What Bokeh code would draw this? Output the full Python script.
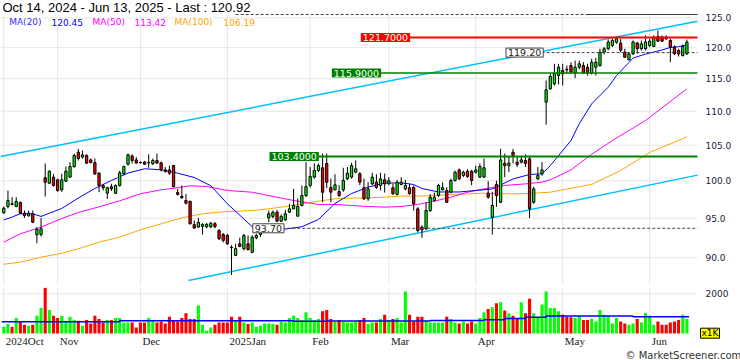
from bokeh.plotting import figure
from bokeh.layouts import column
from bokeh.models import Range1d, Label, LabelSet, ColumnDataSource
from bokeh.embed import file_html
from bokeh.resources import INLINE

# ---------------- data ----------------
opens = [95.71, 96.54, 96.90, 96.54, 97.07, 95.66, 95.32, 95.58, 92.87, 92.90,
         100.41, 99.67, 100.50, 100.13, 98.77, 99.95, 100.50, 101.97, 104.00, 103.30,
         103.53, 102.90, 102.52, 101.05, 99.36, 98.32, 99.20, 98.30, 99.36, 100.96,
         102.30, 103.45, 102.90, 102.55, 102.60, 102.50, 102.35, 102.82, 102.50, 101.50,
         101.50, 102.10, 98.40, 97.87, 97.34, 97.21, 94.17, 93.85, 93.95, 93.90,
         93.90, 94.30, 93.42, 92.90, 92.78, 91.30, 90.28, 91.73, 91.12, 91.73,
         90.67, 92.49, 92.90, 93.40, 95.05, 95.23, 95.79, 94.62, 94.80, 95.79,
         96.23, 95.27, 96.68, 98.00, 99.36, 100.50, 101.42, 101.80, 102.40, 99.10,
         98.77, 98.55, 98.77, 100.27, 100.50, 101.20, 100.96, 99.05, 97.56, 99.58,
         99.81, 99.36, 100.13, 99.60, 99.05, 98.15, 99.50, 98.90, 99.05, 99.10,
         96.23, 93.85, 93.64, 96.01, 97.34, 98.00, 98.77, 98.68, 98.45, 100.04,
         101.50, 100.73, 101.32, 101.32, 101.18, 100.50, 100.50, 98.32, 95.14, 99.50,
         97.10, 102.44, 102.10, 104.00, 102.58, 102.58, 102.82, 103.05, 97.10, 100.27,
         100.96, 111.37, 113.43, 114.21, 115.52, 116.31, 116.50, 117.10, 115.89, 116.83,
         117.10, 116.83, 115.89, 116.83, 117.10, 119.26, 119.83, 120.37, 120.90, 120.75,
         119.26, 118.02, 118.99, 120.78, 119.83, 119.83, 120.37, 120.20, 121.85, 121.75,
         121.75, 121.19, 120.10, 119.54, 118.72, 118.99]
highs = [96.54, 98.68, 97.78, 97.78, 97.21, 96.01, 96.00, 96.00, 93.85, 95.02,
         102.40, 101.42, 100.96, 100.30, 100.96, 101.97, 102.58, 103.80, 104.48, 104.24,
         103.70, 103.10, 103.10, 101.20, 99.58, 99.20, 99.60, 99.50, 101.40, 102.10,
         103.80, 103.70, 103.30, 102.70, 102.75, 103.70, 103.10, 103.80, 102.65, 101.90,
         102.10, 102.20, 98.90, 99.36, 98.20, 97.34, 94.71, 95.02, 94.36, 94.40,
         94.50, 94.50, 93.60, 93.10, 93.00, 91.55, 91.73, 92.50, 93.00, 92.78,
         92.80, 93.00, 93.60, 94.30, 96.01, 96.00, 96.10, 95.50, 96.10, 96.90,
         98.90, 97.60, 99.36, 102.58, 101.90, 102.40, 102.40, 103.80, 103.80, 100.30,
         100.90, 99.40, 101.80, 101.90, 102.50, 102.82, 101.20, 100.30, 99.80, 101.10,
         100.90, 101.10, 101.00, 100.50, 99.60, 100.10, 100.50, 100.10, 99.60, 99.36,
         96.45, 94.07, 97.10, 98.20, 98.40, 99.60, 99.80, 99.10, 100.30, 101.40,
         101.70, 101.40, 101.60, 101.50, 102.10, 102.40, 103.10, 99.95, 98.50, 100.00,
         104.48, 103.80, 103.40, 104.48, 103.30, 103.50, 103.70, 103.30, 99.20, 101.90,
         102.60, 114.73, 115.80, 117.38, 117.38, 117.38, 117.10, 117.64, 117.91, 117.91,
         117.64, 117.40, 118.19, 118.35, 119.83, 120.10, 121.35, 121.47, 121.85, 121.47,
         119.83, 119.26, 121.19, 120.95, 121.19, 122.03, 121.47, 122.03, 122.86, 122.03,
         122.03, 121.47, 120.37, 119.83, 120.53, 121.35]
lows = [95.58, 96.30, 96.70, 96.45, 95.58, 95.05, 95.20, 94.36, 91.80, 92.65,
        97.87, 99.58, 99.20, 98.50, 98.50, 99.81, 100.41, 101.80, 102.82, 103.10,
        102.40, 102.40, 100.80, 98.45, 98.68, 97.56, 98.60, 98.20, 99.20, 100.80,
        102.10, 102.40, 102.40, 102.40, 102.20, 101.80, 102.20, 102.35, 101.30, 101.10,
        100.80, 99.10, 98.00, 97.56, 96.80, 94.20, 93.63, 93.77, 92.90, 93.70,
        93.70, 93.70, 92.20, 91.90, 91.60, 87.90, 90.20, 91.30, 90.90, 90.90,
        90.55, 92.30, 92.60, 93.20, 94.49, 95.00, 94.50, 94.50, 94.62, 95.66,
        96.20, 95.20, 96.54, 97.78, 99.10, 100.30, 101.20, 97.10, 99.00, 97.10,
        98.70, 97.80, 98.50, 100.10, 100.30, 101.05, 99.40, 97.40, 97.30, 99.40,
        98.90, 98.70, 98.40, 99.40, 98.10, 98.00, 99.40, 98.70, 98.10, 96.01,
        93.20, 92.49, 93.50, 95.80, 97.20, 97.80, 98.70, 97.00, 98.30, 99.90,
        100.10, 100.50, 100.40, 99.40, 101.00, 100.40, 100.40, 97.56, 92.90, 96.50,
        96.98, 100.50, 101.20, 102.40, 101.90, 102.40, 101.90, 95.02, 96.90, 100.10,
        100.70, 108.00, 113.28, 113.95, 114.10, 113.95, 115.79, 115.79, 115.10, 116.50,
        115.79, 115.50, 115.68, 115.52, 116.94, 118.90, 119.58, 120.10, 120.65, 119.26,
        118.35, 117.91, 118.80, 118.99, 119.54, 119.54, 120.10, 120.10, 120.95, 120.95,
        121.30, 117.64, 118.80, 118.55, 118.55, 118.83]
closes = [96.32, 97.34, 96.80, 97.21, 95.66, 95.32, 95.66, 94.49, 93.59, 93.64,
          99.81, 101.32, 99.36, 98.68, 100.13, 101.32, 101.97, 103.53, 103.10, 103.62,
          102.44, 102.54, 100.96, 99.36, 99.05, 99.05, 98.90, 99.36, 101.10, 101.97,
          103.62, 102.82, 102.45, 102.50, 102.30, 102.55, 102.82, 102.45, 101.50, 101.32,
          101.05, 99.20, 98.15, 97.70, 96.98, 94.28, 93.73, 94.45, 94.20, 94.20,
          94.36, 93.90, 92.36, 92.15, 91.73, 91.25, 91.12, 91.40, 92.78, 91.00,
          92.57, 92.78, 93.42, 94.00, 95.58, 95.79, 94.62, 95.23, 95.58, 96.23,
          96.68, 96.55, 98.00, 99.20, 100.60, 101.42, 102.10, 98.45, 99.80, 98.45,
          99.45, 98.00, 100.04, 101.05, 102.10, 101.65, 99.81, 97.56, 98.90, 100.50,
          99.10, 100.27, 99.58, 100.00, 98.25, 99.81, 99.80, 99.36, 98.25, 96.90,
          93.42, 93.50, 96.01, 97.78, 97.78, 99.36, 99.05, 97.10, 100.04, 101.18,
          100.27, 101.18, 100.60, 100.04, 101.50, 101.97, 101.80, 97.78, 96.68, 98.00,
          102.90, 102.10, 102.44, 103.53, 102.25, 102.90, 102.40, 96.23, 98.90, 100.73,
          101.50, 113.28, 115.36, 115.79, 116.83, 115.79, 116.42, 116.04, 116.83, 117.38,
          115.89, 115.89, 117.64, 117.64, 119.26, 119.83, 120.95, 121.19, 121.47, 119.58,
          118.44, 118.99, 120.95, 119.83, 120.65, 120.95, 121.08, 121.75, 121.08, 121.08,
          121.47, 120.10, 118.99, 118.99, 120.20, 120.92]
volumes = [339, 475, 339, 780, 576, 440, 390, 440, 898, 1288,
           2300, 1186, 898, 780, 898, 644, 847, 678, 644, 390,
           678, 508, 898, 729, 559, 678, 678, 780, 780, 559,
           559, 559, 305, 559, 559, 780, 678, 559, 610, 508,
           847, 678, 610, 780, 1017, 729, 729, 1407, 440, 136,
           305, 440, 559, 559, 559, 847, 678, 847, 559, 475,
           559, 339, 390, 508, 508, 475, 440, 610, 559, 780,
           898, 780, 678, 1068, 780, 678, 729, 1119, 1186, 729,
           610, 678, 610, 559, 559, 610, 678, 780, 475, 559,
           559, 729, 949, 678, 729, 780, 559, 2119, 949, 610,
           847, 847, 644, 559, 559, 559, 559, 847, 729, 559,
           508, 610, 508, 610, 508, 780, 1068, 1237, 1322, 1525,
           1576, 1153, 1017, 898, 780, 1576, 1017, 1746, 1017, 847,
           1458, 2119, 1288, 1288, 1119, 949, 847, 814, 780, 898,
           678, 678, 729, 610, 1186, 949, 898, 508, 780, 610,
           508, 440, 508, 729, 559, 1017, 898, 440, 610, 440,
           440, 559, 610, 678, 949, 729]

# moving averages (bar index, value)
ma20_k = [0, 2, 4, 7, 9, 11, 14, 18, 22, 26, 30, 34, 38, 42, 46, 50, 54, 56, 58, 60,
          64, 68, 72, 76, 80, 84, 88, 92, 96, 99, 101, 105, 110, 114, 118, 123, 127, 130,
          132, 137, 139, 142, 146, 148, 151, 152, 155, 159, 161, 163, 165]
ma20_v = [94.77, 95.16, 95.58, 95.58, 95.23, 95.66, 96.28, 97.67, 98.95, 100.04,
          101.07, 101.66, 101.52, 101.05, 100.45, 99.32, 96.90, 95.90, 94.90, 93.90,
          93.40, 93.60, 93.90, 94.84, 96.94, 98.27, 99.14, 99.68, 99.72, 99.49,
          98.95, 98.48, 98.48, 98.68, 98.88, 100.25, 100.87, 100.96, 102.10, 105.67,
          108.12, 111.12, 113.69, 115.52, 117.60, 118.31, 118.96, 119.62, 120.05, 120.17,
          120.45]
ma50_k = [0, 4, 9, 14, 18, 23, 28, 33, 38, 43, 45, 49, 54, 60, 64, 70, 76, 80, 84, 88,
          92, 96, 100, 104, 108, 112, 116, 121, 126, 130, 132, 137, 142, 147, 155, 165]
ma50_v = [91.94, 93.00, 93.85, 94.97, 95.75, 96.50, 97.30, 98.23, 98.77, 99.13,
          99.32, 99.22, 98.68, 98.45, 98.00, 97.34, 96.81, 96.81, 96.67, 96.54,
          96.45, 96.54, 96.81, 97.25, 97.78, 98.45, 98.90, 99.36, 99.58, 99.81,
          100.13, 101.50, 103.70, 105.67, 108.61, 113.42]
ma100_k = [0, 4, 9, 14, 18, 23, 28, 33, 38, 43, 48, 53, 60, 64, 68, 72, 76, 80, 84, 88,
           92, 96, 100, 104, 108, 112, 116, 120, 124, 128, 132, 142, 149, 156, 165]
ma100_v = [89.20, 89.45, 90.06, 90.55, 91.10, 91.94, 92.57, 93.50, 94.28, 95.05,
           95.58, 95.84, 96.01, 96.23, 96.54, 96.90, 97.25, 97.56, 97.65, 97.70,
           97.78, 97.92, 97.92, 98.00, 98.15, 98.23, 98.32, 98.23, 98.23, 98.32,
           98.45, 99.50, 101.42, 103.95, 106.19]
# volume moving average (steps)
vma_k = [-0.5, 28, 70, 78, 103, 116, 121, 126, 131, 152, 165.5]
vma_v = [590, 640, 615, 630, 650, 695, 760, 815, 880, 845, 845]

# trend channel (bar index, price)
chan_up_k = [-0.8, 167.56]
chan_up_v = [103.38, 124.44]
chan_lo_k = [44.6, 167.56]
chan_lo_v = [87.23, 100.78]

month_k = [0, 13, 33, 54, 74, 93, 114, 135, 156]
month_labels = ["2024Oct", "Nov", "Dec", "2025Jan", "Feb", "Mar", "Apr", "May", "Jun"]
price_ticks = [90, 95, 100, 105, 110, 115, 120, 125]
vol_ticks = [2000]

title_text = "Oct 14, 2024 - Jun 13, 2025 - Last : 120.92"
ma_legend = [("MA(20)", "#3030ff"), ("120.45", "#0000ff"), ("MA(50)", "#ff00ff"),
             ("113.42", "#ff00ff"), ("MA(100)", "#ffa500"), ("106.19", "#ffa500")]

resist_v, resist_k0 = 121.70, 97.75
sup1_v, sup1_k0 = 115.90, 90.75
sup2_v, sup2_k0 = 103.40, 75.7
mark_hi_v, mark_hi_k0 = 119.20, 129.9
mark_lo_v, mark_lo_k0 = 93.70, 67.25
top_v, top_k0, top_k1 = 125.58, 56.0, 141.0
grid_top = 125.41

# ---------------- drawing ----------------
GRID = "#e6e6e6"
AXC = "#202040"
PX_PER_BAR = 4.14
K_START = -0.797
K_END = 167.56                      # right edge of the plotting area (697 px)
K_FULL = K_START + 740 / PX_PER_BAR  # right edge of the canvas
n = len(closes)
ks = list(range(n))
up = [c >= o for o, c in zip(opens, closes)]
colors = ["#00ff00" if u else "#ff0000" for u in up]
src = ColumnDataSource(dict(k=ks, o=opens, h=highs, l=lows, c=closes,
                            top=[max(o, c) for o, c in zip(opens, closes)],
                            bottom=[min(o, c) for o, c in zip(opens, closes)],
                            color=colors, v=volumes))


def bare(fig):
    fig.outline_line_color = None
    fig.background_fill_color = "white"
    fig.border_fill_color = "white"
    fig.xgrid.grid_line_color = None
    fig.ygrid.grid_line_color = None


# price panel: full-width frame 740 x 284, log scale
y0p, y1p = 86.756, 128.015
pa = figure(width=740, height=284, x_range=Range1d(K_START, K_FULL),
            y_range=Range1d(y0p, y1p), y_axis_type="log",
            x_axis_location=None, y_axis_location=None,
            output_backend="svg", toolbar_location=None,
            min_border_left=0, min_border_right=0, min_border_top=0, min_border_bottom=0)
bare(pa)
m = len(month_k)
pa.segment(x0=month_k, y0=[y0p] * m, x1=month_k, y1=[grid_top] * m,
           line_color=GRID, line_width=1)
pt = len(price_ticks)
pa.segment(x0=[K_START] * pt, y0=price_ticks, x1=[K_END] * pt, y1=price_ticks,
           line_color=GRID, line_width=1)
for t in price_ticks:
    pa.add_layout(Label(x=705, y=t, x_units="screen", y_units="data", text=f"{t:.1f}",
                        text_font="DejaVu Sans", text_font_size="9px", text_color=AXC,
                        text_baseline="middle"))

# channel
pa.line(chan_up_k, chan_up_v, line_color="#00bfff", line_width=1.5)
pa.line(chan_lo_k, chan_lo_v, line_color="#00bfff", line_width=1.5)
# moving averages
pa.line(ma100_k, ma100_v, line_color="#ffa500", line_width=1)
pa.line(ma50_k, ma50_v, line_color="#ff00ff", line_width=1)
pa.line(ma20_k, ma20_v, line_color="#0000ff", line_width=1)
# candles
pa.segment(x0="k", y0="h", x1="k", y1="l", source=src, line_color="black", line_width=1)
pa.vbar(x="k", width=0.55, top="top", bottom="bottom", source=src,
        fill_color="color", line_color="black", line_width=1)

# level lines
pa.segment(x0=[top_k0], y0=[top_v], x1=[K_END], y1=[top_v], line_color="#444444",
           line_width=1, line_dash="3 2")
pa.segment(x0=[top_k1], y0=[top_v], x1=[K_END], y1=[top_v], line_color="#444444", line_width=1)
pa.segment(x0=[mark_hi_k0], y0=[mark_hi_v], x1=[K_END], y1=[mark_hi_v],
           line_color="#444444", line_width=1, line_dash="3 2")
pa.segment(x0=[mark_lo_k0], y0=[mark_lo_v], x1=[K_END], y1=[mark_lo_v],
           line_color="#444444", line_width=1, line_dash="3 2")
pa.segment(x0=[resist_k0], y0=[resist_v], x1=[K_END], y1=[resist_v],
           line_color="#ff0000", line_width=2)
pa.segment(x0=[sup1_k0], y0=[sup1_v], x1=[K_END], y1=[sup1_v],
           line_color="#008000", line_width=1.5)
pa.segment(x0=[sup2_k0], y0=[sup2_v], x1=[K_END], y1=[sup2_v],
           line_color="#008000", line_width=2)

PAD = dict(left=2, right=2, top=1, bottom=1)


def box(px, val, txt, bg, fg, border=None):
    lab = Label(x=px, y=val, x_units="screen", y_units="data", text=txt,
                text_font="DejaVu Sans", text_font_size="9.5px", text_color=fg,
                text_baseline="middle", text_align="left",
                background_fill_color=bg, padding=PAD)
    if border:
        lab.border_line_color = border
        lab.border_line_width = 1
    pa.add_layout(lab)


box(360.3, resist_v, "121.7000", "#ff0000", "white")
box(331.3, sup1_v, "115.9000", "#008000", "white")
box(269.0, sup2_v, "103.4000", "#008000", "white")
box(505.5, mark_hi_v, "119.20", "white", "#222222", "#444444")
box(252.3, mark_lo_v, "93.70", "white", "#222222", "#444444")

# title and MA legend (screen units, measured up from the frame bottom)
pa.add_layout(Label(x=2, y=277, x_units="screen", y_units="screen", text=title_text,
                    text_font="Liberation Sans", text_font_size="13px", text_color="black",
                    text_baseline="middle"))
legend_x = [7.7, 50, 91, 133, 173, 222]
for (txt, col), lx in zip(ma_legend, legend_x):
    pa.add_layout(Label(x=lx, y=262.3, x_units="screen", y_units="screen", text=txt,
                        text_font="DejaVu Sans", text_font_size="9px", text_color=col,
                        text_baseline="middle", background_fill_color="white",
                        padding=dict(left=1, right=1, top=0, bottom=0)))

# ---------------- volume panel: full-width frame 740 x 73 ----------------
VOL_PX = 50.38          # volume units per pixel
vb0, vb1 = -27 * VOL_PX, 46 * VOL_PX
pb = figure(width=740, height=76, x_range=Range1d(K_START, K_FULL),
            y_range=Range1d(vb0, vb1),
            x_axis_location=None, y_axis_location=None,
            output_backend="svg", toolbar_location=None,
            min_border_left=0, min_border_right=0, min_border_top=3, min_border_bottom=0)
bare(pb)
pb.segment(x0=month_k, y0=[0] * m, x1=month_k, y1=[vb1] * m,
           line_color=GRID, line_width=1)
vt = len(vol_ticks)
pb.segment(x0=[K_START] * vt, y0=vol_ticks, x1=[K_END] * vt, y1=vol_ticks,
           line_color=GRID, line_width=1)

pb.vbar(x="k", width=0.75, top="v", bottom=0, source=src, fill_color="color", line_color=None)
pb.step(vma_k, vma_v, mode="after", line_color="#0000ff", line_width=1.5)

for t in vol_ticks:
    pb.add_layout(Label(x=705, y=t, x_units="screen", y_units="data", text=str(t),
                        text_font="DejaVu Sans", text_font_size="9px", text_color=AXC,
                        text_baseline="middle"))

msrc = ColumnDataSource(dict(x=[mk + 0.5 for mk in month_k], text=month_labels))
pb.add_layout(LabelSet(x="x", y=19.5, y_units="screen", text="text", source=msrc,
                       text_align="left", text_baseline="middle", text_font="DejaVu Sans",
                       text_font_size="11px", text_color="#222222"))
pb.add_layout(Label(x=700, y=27.3, x_units="screen", y_units="screen", text="x1K",
                    text_font="DejaVu Sans", text_font_size="9px", text_color="black",
                    text_baseline="middle", background_fill_color="#ffff00",
                    border_line_color="black", border_line_width=1,
                    padding=dict(left=1, right=1, top=0, bottom=0)))
pb.add_layout(Label(x=625, y=5, x_units="screen", y_units="screen",
                    text="\u00a9 MarketScreener.com", text_font="DejaVu Sans",
                    text_font_size="10px", text_color="#333333", text_baseline="middle"))

layout = column(pa, pb, spacing=0)
open("out.html", "w").write(file_html(layout, INLINE))
